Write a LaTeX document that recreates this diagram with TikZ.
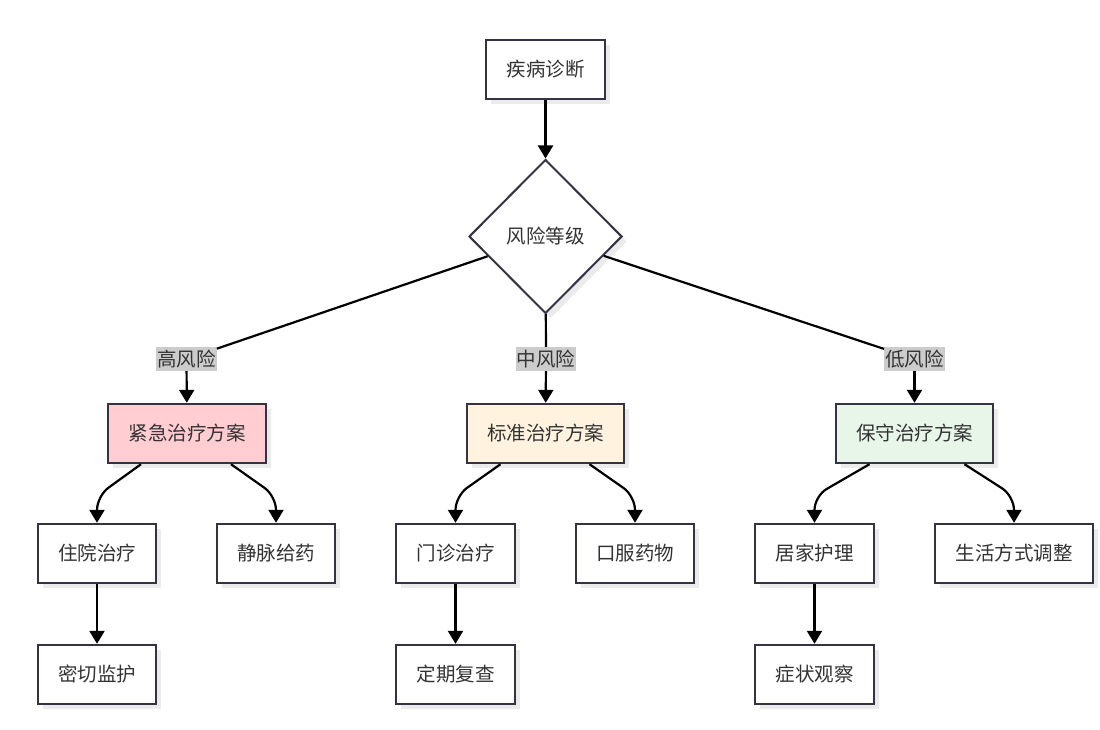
\documentclass[tikz,border=0pt]{standalone}
\usepackage{fontspec}
\setmainfont{Noto Sans CJK SC}
\usetikzlibrary{shapes.geometric,arrows.meta,shadows}
\definecolor{edgec}{RGB}{51,51,68}
\definecolor{txtc}{RGB}{51,51,51}
\definecolor{highc}{RGB}{255,205,210}
\definecolor{midc}{RGB}{255,243,224}
\definecolor{lowc}{RGB}{232,245,233}
\definecolor{labc}{RGB}{204,204,204}
\begin{document}
\begin{tikzpicture}[x=1pt,y=-1pt,
  font=\fontsize{19.5}{23}\selectfont,
  boxnode/.style={draw=edgec,line width=2.4pt,fill=white,text=txtc,minimum height=59pt,inner sep=0pt,
    drop shadow={shadow xshift=5pt,shadow yshift=-5pt,fill=black!8,opacity=1}},
  decnode/.style={draw=edgec,line width=2pt,fill=white,text=txtc,diamond,minimum width=153pt,minimum height=154pt,inner sep=0pt,aspect=1,
    drop shadow={shadow xshift=5pt,shadow yshift=-5pt,fill=black!8,opacity=1}},
  lab/.style={fill=labc,text=txtc,inner sep=1pt,minimum height=24pt},
  conn/.style={line width=2.2pt,black},
  arr/.style={conn,-{Triangle[width=15pt,length=13pt]}},
  bendarr/.style={arr,rounded corners=14pt}]
\path[use as bounding box] (0,0) rectangle (1100,730);

\node[boxnode,minimum width=119pt] (diag) at (545.5,69.5) {疾病诊断};
\node[decnode] (risk) at (545.5,236.5) {风险等级};

\node[lab] (lh) at (186.5,359) {高风险};
\node[lab] (lm) at (546,359) {中风险};
\node[lab] (ll) at (914.5,359) {低风险};

\node[boxnode,minimum width=158pt,fill=highc] (urg) at (187,433.5) {紧急治疗方案};
\node[boxnode,minimum width=157pt,fill=midc] (std) at (545.5,433.5) {标准治疗方案};
\node[boxnode,minimum width=157pt,fill=lowc] (con) at (914.5,433.5) {保守治疗方案};

\node[boxnode,minimum width=118pt] (hosp) at (97,553.5) {住院治疗};
\node[boxnode,minimum width=118pt] (iv) at (276,553.5) {静脉给药};
\node[boxnode,minimum width=119pt] (outp) at (455.5,553.5) {门诊治疗};
\node[boxnode,minimum width=118pt] (oral) at (635,553.5) {口服药物};
\node[boxnode,minimum width=119pt] (home) at (814.5,553.5) {居家护理};
\node[boxnode,minimum width=158pt] (life) at (1014,553.5) {生活方式调整};

\node[boxnode,minimum width=118pt] (icu) at (97,674.5) {密切监护};
\node[boxnode,minimum width=119pt] (rev) at (455.5,674.5) {定期复查};
\node[boxnode,minimum width=119pt] (obs) at (814.5,674.5) {症状观察};

\draw[arr] (diag) -- (risk);
\draw[conn] (risk) -- (lh);
\draw[conn] (risk) -- (lm);
\draw[conn] (risk) -- (ll);
\draw[arr] (lh) -- (urg);
\draw[arr] (lm) -- (std);
\draw[arr] (ll) -- (con);

\draw[bendarr] ([xshift=-46pt]urg.south) -- (97,496) -- (hosp.north);
\draw[bendarr] ([xshift=44pt]urg.south) -- (276,496) -- (iv.north);
\draw[bendarr] ([xshift=-45pt]std.south) -- (455.5,496) -- (outp.north);
\draw[bendarr] ([xshift=44pt]std.south) -- (635,496) -- (oral.north);
\draw[bendarr] ([xshift=-45pt]con.south) -- (814.5,496) -- (home.north);
\draw[bendarr] ([xshift=50pt]con.south) -- (1014,496) -- (life.north);

\draw[arr] (hosp) -- (icu);
\draw[arr] (outp) -- (rev);
\draw[arr] (home) -- (obs);
\end{tikzpicture}
\end{document}
